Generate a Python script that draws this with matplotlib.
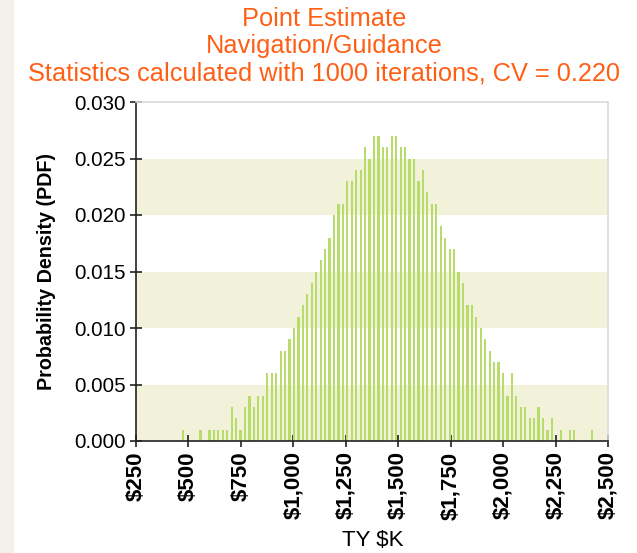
import numpy as np
import matplotlib
matplotlib.use("Agg")
from matplotlib import pyplot as plt
from matplotlib.patches import Rectangle

plt.rcParams['font.family'] = ['Liberation Sans', 'DejaVu Sans']

# 图表数据 (1000 次迭代的直方图, 每个计数 = 0.001)
title_lines = ["Point Estimate",
               "Navigation/Guidance",
               "Statistics calculated with 1000 iterations, CV = 0.220"]
x_label = "TY $K"
y_label = "Probability Density (PDF)"

bin_start = 473.0   # 第一个柱子的中心, $K
bin_width = 21.2    # $K
counts = [1, 0, 0, 0, 1, 0, 1, 1, 1, 1,
          1, 3, 2, 1, 3, 4, 3, 4, 4, 6,
          6, 6, 8, 8, 9, 10, 11, 12, 13, 14,
          15, 16, 17, 18, 20, 21, 21, 23, 23, 24,
          24, 26, 25, 27, 27, 26, 26, 27, 27, 26,
          26, 25, 25, 23, 24, 22, 21, 21, 19, 18,
          17, 17, 15, 14, 12, 12, 11, 10, 9, 8,
          7, 7, 6, 4, 6, 4, 3, 3, 2, 2,
          3, 2, 1, 2, 0, 1, 0, 1, 1, 0,
          0, 0, 1]
iterations = 1000

x_ticks = [250, 500, 750, 1000, 1250, 1500, 1750, 2000, 2250, 2500]
y_ticks = [0.000, 0.005, 0.010, 0.015, 0.020, 0.025, 0.030]
bands = [(0.000, 0.005), (0.010, 0.015), (0.020, 0.025)]

centers = bin_start + bin_width * np.arange(len(counts))
pdf = np.array(counts) / iterations

orange = '#FF5F15'
bar_color = '#B8DC6C'
band_color = '#F2F2DA'

fig = plt.figure(figsize=(6.37, 5.53), dpi=100)
fig.patches.append(Rectangle((0, 0), 12.5 / 637, 1, transform=fig.transFigure,
                             color='#F3F0EC', zorder=-1))

ax = fig.add_axes([136 / 637, 112 / 553, 472 / 637, 339 / 553])
for lo, hi in bands:
    ax.axhspan(lo, hi, color=band_color, zorder=0, lw=0)
ax.bar(centers, pdf, width=bin_width * 0.5, color=bar_color, zorder=2)

ax.set_xlim(250, 2500)
ax.set_ylim(0, 0.030)
ax.set_xticks(x_ticks)
ax.set_xticklabels(['${:,}'.format(v) for v in x_ticks], rotation=90,
                   fontweight='bold', fontsize=16)
ax.set_yticks(y_ticks)
ax.set_yticklabels(['{:.3f}'.format(v) for v in y_ticks], fontsize=14.8)
ax.tick_params(direction='inout', length=9, width=1.2, color='#222222')
ax.tick_params(axis='x', pad=3)
ax.tick_params(axis='y', pad=3)

for s in ['left', 'bottom']:
    ax.spines[s].set_color('#222222')
    ax.spines[s].set_linewidth(1.2)
for s in ['top', 'right']:
    ax.spines[s].set_color('#DADADA')
    ax.spines[s].set_linewidth(1.2)

# 标题和轴标签
for i, line in enumerate(title_lines):
    fig.text(324 / 637, 1 - (19 + 27.5 * i) / 553, line, color=orange,
             fontsize=18.3, ha='center', va='center')
fig.text(47 / 637, 1 - 272 / 553, y_label, rotation=90, fontweight='bold',
         fontsize=14.2, ha='center', va='center')
fig.text(373 / 637, 1 - 541 / 553, x_label, fontsize=16, ha='center', va='center')

plt.savefig('out.png', dpi=100)
